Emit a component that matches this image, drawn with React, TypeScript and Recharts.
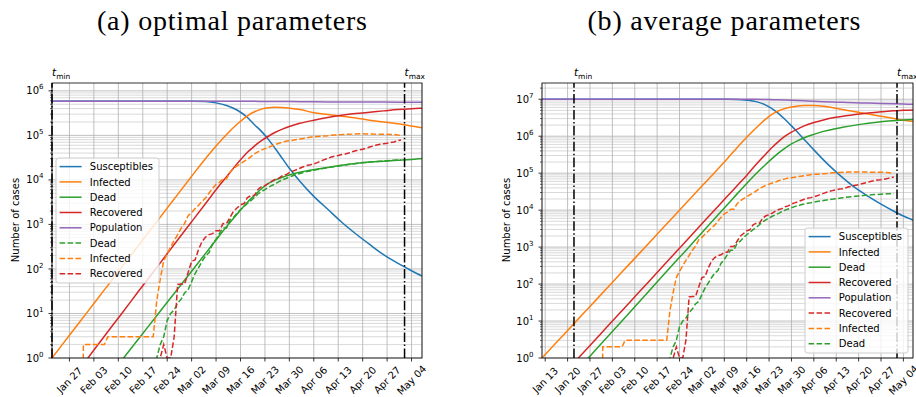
import React from "react";
import {
  LineChart,
  Line,
  XAxis,
  YAxis,
  CartesianGrid,
  ReferenceLine,
} from "recharts";

const FONT = "'DejaVu Sans', Verdana, sans-serif";
const SERIF = "'Liberation Serif', 'DejaVu Serif', serif";

const blue = "#1f77b4";
const orange = "#ff7f0e";
const green = "#2ca02c";
const red = "#d62728";
const purple = "#9467bd";

// x values are days after 22 Jan 2020 (= t_min)
const weekDays = [-9, -2, 5, 12, 19, 26, 33, 40, 47, 54, 61, 68, 75, 82, 89, 96, 103];
const weekLabels = [
  "Jan 13", "Jan 20", "Jan 27", "Feb 03", "Feb 10", "Feb 17", "Feb 24", "Mar 02", "Mar 09",
  "Mar 16", "Mar 23", "Mar 30", "Apr 06", "Apr 13", "Apr 20", "Apr 27", "May 04",
];
const tMin = 0;
const tMax = 101;

// reported counts, one per day from 22 Jan to 1 May
const reportedInfected = [
  0, 0, 0, 0, 0, 0, 0, 0, 0, 2, 2, 2, 2, 2, 2, 2, 3, 3, 3, 3, 3, 3, 3, 3, 3, 3, 3, 3, 3, 3,
  19, 59, 150, 221, 311, 438, 593, 821, 1053, 1577, 1835, 2263, 2706, 3296, 3916, 5061, 6387,
  7985, 8794, 10590, 10590, 14955, 17750, 20603, 23073, 26062, 28710, 33190, 38549, 42681,
  46638, 50418, 54030, 57521, 62063, 66414, 70065, 73880, 75528, 77635, 80572, 83049, 85388,
  88274, 91246, 93187, 94067, 95262, 96877, 98273, 100269, 102253, 103616, 104291, 105418,
  106607, 106962, 107771, 108257, 108237, 107709, 107699, 106848, 106527, 105847, 106103,
  105813, 105205, 104657, 101551, 100943,
];
const reportedRecovered = [
  0, 0, 0, 0, 0, 0, 0, 0, 0, 0, 0, 0, 0, 0, 0, 0, 0, 0, 0, 0, 0, 0, 0, 0, 0, 0, 0, 0, 0, 0, 0,
  1, 2, 1, 1, 3, 45, 46, 46, 83, 149, 160, 276, 414, 523, 589, 622, 724, 724, 1045, 1045, 1439,
  1966, 2335, 2749, 2941, 4025, 4440, 4440, 6072, 7024, 7432, 8326, 9362, 10361, 10950, 12384,
  13030, 14620, 15729, 16847, 18278, 19758, 20996, 21815, 22837, 24392, 26491, 28470, 30455,
  32534, 34211, 35435, 37130, 38092, 40164, 42727, 44927, 47055, 48877, 51600, 54543, 57576,
  60498, 63120, 64928, 66624, 68941, 71252, 75945, 78249,
];
const reportedDead = [
  0, 0, 0, 0, 0, 0, 0, 0, 0, 0, 0, 0, 0, 0, 0, 0, 0, 0, 0, 0, 0, 0, 0, 0, 0, 0, 0, 0, 0, 0,
  1, 2, 3, 7, 10, 12, 17, 21, 29, 34, 52, 79, 107, 148, 197, 233, 366, 463, 631, 827, 827, 1266,
  1441, 1809, 2158, 2503, 2978, 3405, 4032, 4825, 5476, 6077, 6820, 7503, 8165, 9134, 10023,
  10779, 11591, 12428, 13155, 13915, 14681, 15362, 15887, 16523, 17127, 17669, 18279, 18849,
  19468, 19899, 20465, 21067, 21645, 22170, 22745, 23227, 23660, 24114, 24648, 25085, 25549,
  25969, 26384, 26644, 26977, 27359, 27682, 27967, 28236,
];

// fitted curves (a), log10 of the number of cases
const fitDaysA = [0, 5, 10, 15, 20, 25, 30, 35, 40, 44, 47, 50, 53, 56, 58, 60, 62, 64, 66, 68, 71, 75, 79, 83, 87, 91, 95, 99, 103, 106];
const susceptiblesA = [5.768, 5.768, 5.768, 5.768, 5.768, 5.768, 5.768, 5.768, 5.767, 5.76, 5.73, 5.67, 5.57, 5.4, 5.24, 5.09, 4.91, 4.7, 4.48, 4.26, 3.97, 3.63, 3.34, 3.05, 2.79, 2.55, 2.32, 2.13, 1.96, 1.84];
const infectedA = [0, 0.51, 1.02, 1.53, 2.04, 2.55, 3.06, 3.57, 4.08, 4.48, 4.76, 5.02, 5.25, 5.44, 5.53, 5.59, 5.62, 5.63, 5.625, 5.61, 5.58, 5.51, 5.47, 5.43, 5.39, 5.34, 5.3, 5.26, 5.21, 5.17];
const deadA = [-2.05, -1.55, -1.05, -0.55, -0.05, 0.45, 0.95, 1.45, 1.95, 2.35, 2.65, 2.95, 3.23, 3.5, 3.65, 3.8, 3.92, 4.0, 4.06, 4.11, 4.17, 4.23, 4.28, 4.33, 4.37, 4.4, 4.42, 4.44, 4.46, 4.48];
const recoveredA = [-1.06, -0.54, -0.03, 0.49, 1.0, 1.52, 2.03, 2.55, 3.06, 3.47, 3.78, 4.07, 4.36, 4.62, 4.76, 4.88, 4.98, 5.07, 5.14, 5.2, 5.27, 5.34, 5.4, 5.45, 5.49, 5.52, 5.55, 5.58, 5.6, 5.61];
const populationA = [5.768, 5.768, 5.768, 5.768, 5.768, 5.768, 5.768, 5.768, 5.768, 5.768, 5.768, 5.768, 5.767, 5.766, 5.764, 5.763, 5.762, 5.76, 5.759, 5.758, 5.756, 5.754, 5.752, 5.75, 5.749, 5.748, 5.747, 5.746, 5.745, 5.745];

// fitted curves (b), log10 of the number of cases
const fitDaysB = [-10, -5, 0, 5, 10, 15, 20, 25, 30, 35, 40, 45, 48, 51, 54, 57, 60, 62, 64, 66, 68, 70, 72, 75, 78, 81, 84, 88, 92, 96, 100, 103, 106];
const susceptiblesB = [7, 7, 7, 7, 7, 7, 7, 7, 7, 7, 7, 7, 7, 6.995, 6.975, 6.935, 6.84, 6.74, 6.61, 6.45, 6.28, 6.1, 5.91, 5.63, 5.36, 5.11, 4.88, 4.6, 4.37, 4.16, 3.97, 3.84, 3.73];
const infectedB = [0, 0.465, 0.93, 1.395, 1.86, 2.325, 2.79, 3.255, 3.72, 4.185, 4.65, 5.115, 5.4, 5.69, 5.97, 6.23, 6.47, 6.6, 6.69, 6.75, 6.79, 6.82, 6.83, 6.83, 6.81, 6.77, 6.72, 6.66, 6.6, 6.54, 6.48, 6.43, 6.4];
const deadB = [-1.4, -0.95, -0.43, 0.05, 0.53, 1.0, 1.48, 1.96, 2.44, 2.91, 3.39, 3.87, 4.15, 4.44, 4.72, 4.99, 5.24, 5.4, 5.55, 5.68, 5.79, 5.88, 5.96, 6.05, 6.13, 6.19, 6.24, 6.3, 6.35, 6.39, 6.42, 6.44, 6.45];
const recoveredB = [-1.07, -0.6, -0.13, 0.34, 0.81, 1.28, 1.75, 2.22, 2.69, 3.16, 3.63, 4.1, 4.38, 4.66, 4.94, 5.24, 5.52, 5.7, 5.86, 6.0, 6.11, 6.2, 6.28, 6.37, 6.44, 6.5, 6.54, 6.59, 6.63, 6.66, 6.69, 6.7, 6.71];
const populationB = [7, 7, 7, 7, 7, 7, 7, 7, 7, 7, 7, 7, 7, 7, 6.999, 6.997, 6.993, 6.989, 6.984, 6.979, 6.973, 6.966, 6.958, 6.946, 6.935, 6.925, 6.916, 6.905, 6.895, 6.885, 6.875, 6.868, 6.862];

const FLOOR = 1e-6; // zero counts sit far below the log axis, like matplotlib's clipping
const reportedRows = reportedInfected.map((v, day) => ({
  day,
  infected: Math.max(v, FLOOR),
  recovered: Math.max(reportedRecovered[day], FLOOR),
  dead: Math.max(reportedDead[day], FLOOR),
}));

const fitRows = (days: number[], logs: number[]) =>
  days.map((day, i) => ({ day, v: Math.pow(10, logs[i]) }));

const decades = [1, 10, 100, 1e3, 1e4, 1e5, 1e6, 1e7];
const minorSteps = [1, 2, 3, 4, 5, 6, 7, 8, 9];

type Curve = { name: string; color: string; rows: any[]; key: string; dashed: boolean };

const curvesA: Curve[] = [
  { name: "Susceptibles", color: blue, rows: fitRows(fitDaysA, susceptiblesA), key: "v", dashed: false },
  { name: "Infected", color: orange, rows: fitRows(fitDaysA, infectedA), key: "v", dashed: false },
  { name: "Dead", color: green, rows: fitRows(fitDaysA, deadA), key: "v", dashed: false },
  { name: "Recovered", color: red, rows: fitRows(fitDaysA, recoveredA), key: "v", dashed: false },
  { name: "Population", color: purple, rows: fitRows(fitDaysA, populationA), key: "v", dashed: false },
  { name: "Dead", color: green, rows: reportedRows, key: "dead", dashed: true },
  { name: "Infected", color: orange, rows: reportedRows, key: "infected", dashed: true },
  { name: "Recovered", color: red, rows: reportedRows, key: "recovered", dashed: true },
];

const curvesB: Curve[] = [
  { name: "Susceptibles", color: blue, rows: fitRows(fitDaysB, susceptiblesB), key: "v", dashed: false },
  { name: "Infected", color: orange, rows: fitRows(fitDaysB, infectedB), key: "v", dashed: false },
  { name: "Dead", color: green, rows: fitRows(fitDaysB, deadB), key: "v", dashed: false },
  { name: "Recovered", color: red, rows: fitRows(fitDaysB, recoveredB), key: "v", dashed: false },
  { name: "Population", color: purple, rows: fitRows(fitDaysB, populationB), key: "v", dashed: false },
  { name: "Recovered", color: red, rows: reportedRows, key: "recovered", dashed: true },
  { name: "Infected", color: orange, rows: reportedRows, key: "infected", dashed: true },
  { name: "Dead", color: green, rows: reportedRows, key: "dead", dashed: true },
];

const DASH = "5.55 2.4";
const isDecade = (v: number) => Math.abs(Math.log10(v) - Math.round(Math.log10(v))) < 1e-9;

function DateTick(props: any) {
  const { x, y, payload } = props;
  const label = weekLabels[weekDays.indexOf(payload.value)];
  const cy = y + 18.5;
  return (
    <text
      x={x}
      y={cy + 3.6}
      textAnchor="middle"
      fontSize={10}
      fontFamily={FONT}
      fill="#000"
      transform={`rotate(-45 ${x} ${cy})`}
    >
      {label}
    </text>
  );
}

// log axis tick: long tick + 10^n label on decades, short bare tick otherwise
function LogTick(props: any) {
  const { x, y, payload } = props;
  const major = isDecade(payload.value);
  const exp = Math.round(Math.log10(payload.value));
  return (
    <g>
      <line x1={x} x2={x - (major ? 3.5 : 2)} y1={y} y2={y} stroke="#000" strokeWidth={major ? 0.8 : 0.6} />
      {major && (
        <text x={x - 8.5} y={y + 3.6} textAnchor="end" fontSize={10} fontFamily={FONT} fill="#000">
          <tspan>10</tspan>
          <tspan fontSize={7} dy={-5}>{exp}</tspan>
        </text>
      )}
    </g>
  );
}

function TLabel(props: any) {
  const { viewBox, sub } = props;
  return (
    <text x={viewBox.x} y={viewBox.y - 7} fontFamily={FONT} fontSize={10.5} fill="#000">
      <tspan fontStyle="italic">t</tspan>
      <tspan fontSize={7.5} dy={2.5}>{sub}</tspan>
    </text>
  );
}

function Panel(props: {
  left: number;
  yWidth: number;
  right: number;
  xDomain: [number, number];
  yMax: number;
  curves: Curve[];
}) {
  const { left, yWidth, right, xDomain, yMax, curves } = props;
  const yTicks = decades
    .flatMap((d) => minorSteps.map((s) => s * d))
    .filter((d) => d <= yMax);
  const xTicks = weekDays.filter((d) => d >= xDomain[0] && d <= xDomain[1]);
  const gridLine = (p: any) => {
    const v = yTicks[p.index];
    if (v === undefined) return <g key={p.key} />;
    const major = isDecade(v);
    return (
      <line
        key={p.key}
        x1={p.x1}
        x2={p.x2}
        y1={p.y1}
        y2={p.y2}
        stroke={major ? "#b0b0b0" : "#cfcfcf"}
        strokeWidth={0.8}
      />
    );
  };
  return (
    <div style={{ position: "absolute", left, top: 0 }}>
      <LineChart width={460} height={397} margin={{ top: 83, right, bottom: 0, left: 0 }}>
        <CartesianGrid horizontal={gridLine} stroke="#b0b0b0" strokeWidth={0.8} />
        <XAxis
          type="number"
          dataKey="day"
          domain={xDomain}
          allowDataOverflow
          ticks={xTicks}
          interval={0}
          tick={(p: any) => <DateTick {...p} />}
          tickSize={3.5}
          tickMargin={0}
          tickLine={{ stroke: "#000", strokeWidth: 0.8 }}
          axisLine={false}
          height={39}
        />
        <YAxis
          scale="log"
          type="number"
          domain={[1, yMax]}
          allowDataOverflow
          ticks={yTicks}
          interval={0}
          tick={(p: any) => <LogTick {...p} />}
          tickSize={0}
          tickMargin={0}
          tickLine={false}
          axisLine={false}
          width={yWidth}
        />
        {curves.map((c, i) => (
          <Line
            key={i}
            data={c.rows}
            dataKey={c.key}
            name={c.name}
            type={c.dashed ? "linear" : "monotone"}
            stroke={c.color}
            strokeWidth={1.5}
            strokeDasharray={c.dashed ? DASH : undefined}
            dot={false}
            activeDot={false}
            isAnimationActive={false}
          />
        ))}
        <ReferenceLine
          x={tMin}
          stroke="#000"
          strokeWidth={1.5}
          strokeDasharray="9.6 2.4 1.5 2.4"
          label={<TLabel sub="min" />}
        />
        <ReferenceLine
          x={tMax}
          stroke="#000"
          strokeWidth={1.5}
          strokeDasharray="9.6 2.4 1.5 2.4"
          label={<TLabel sub="max" />}
        />
      </LineChart>
    </div>
  );
}

function LegendBox(props: { x: number; y: number; w: number; h: number; curves: Curve[] }) {
  const { x, y, w, h, curves } = props;
  return (
    <g>
      <rect x={x} y={y} width={w} height={h} rx={2.5} fill="#fff" fillOpacity={0.8} stroke="#cccccc" strokeWidth={1} />
      {curves.map((c, i) => {
        const cy = y + 8.6 + i * 15.3;
        return (
          <g key={i}>
            <line
              x1={x + 3.6}
              x2={x + 25.6}
              y1={cy}
              y2={cy}
              stroke={c.color}
              strokeWidth={1.5}
              strokeDasharray={c.dashed ? DASH : undefined}
            />
            <text x={x + 33.8} y={cy + 3.6} fontSize={10} fontFamily={FONT} fill="#000">
              {c.name}
            </text>
          </g>
        );
      })}
    </g>
  );
}

export default function App() {
  return (
    <div style={{ position: "absolute", left: 0, top: 0, width: 916, height: 397, background: "#fff", overflow: "hidden" }}>
      <Panel left={0} yWidth={52} right={38} xDomain={[0, 106]} yMax={1.5e6} curves={curvesA} />
      <Panel left={456} yWidth={86} right={3} xDomain={[-10, 106]} yMax={2.75e7} curves={curvesB} />
      <svg width={916} height={397} style={{ position: "absolute", left: 0, top: 0, pointerEvents: "none" }}>
        <text x={232} y={30} textAnchor="middle" fontFamily={SERIF} fontSize={28} textLength={270} lengthAdjust="spacing" fill="#000">
          (a) optimal parameters
        </text>
        <text x={724} y={30} textAnchor="middle" fontFamily={SERIF} fontSize={28} textLength={273} lengthAdjust="spacing" fill="#000">
          (b) average parameters
        </text>
        <text transform="translate(15.7 220) rotate(-90)" textAnchor="middle" dy={3.6} fontSize={10} fontFamily={FONT} fill="#000">
          Number of cases
        </text>
        <text transform="translate(506 220) rotate(-90)" textAnchor="middle" dy={3.6} fontSize={10} fontFamily={FONT} fill="#000">
          Number of cases
        </text>
        <rect x={52} y={83} width={370} height={275} fill="none" stroke="#000" strokeWidth={0.8} />
        <rect x={542} y={83} width={371} height={275} fill="none" stroke="#000" strokeWidth={0.8} />
        <LegendBox x={56} y={158} w={103} h={125} curves={curvesA} />
        <LegendBox x={805} y={228} w={103} h={125} curves={curvesB} />
      </svg>
    </div>
  );
}
